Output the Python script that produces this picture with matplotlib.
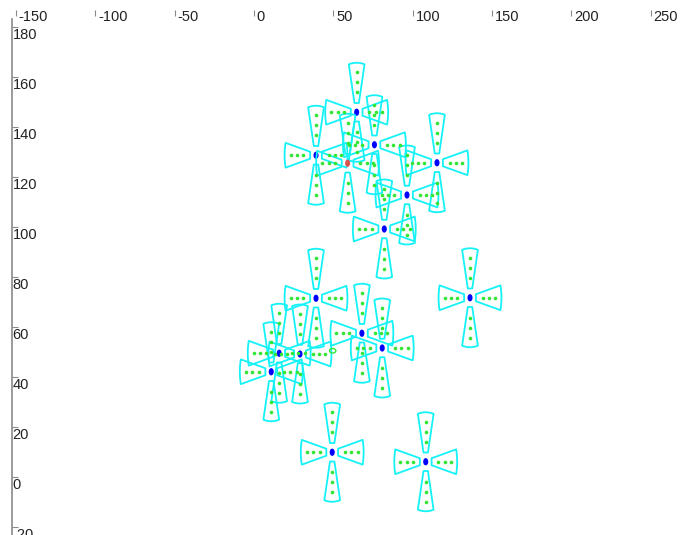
import numpy as np
import matplotlib
matplotlib.use("Agg")
import matplotlib.pyplot as plt
from matplotlib.patches import Polygon, Ellipse

# ==============================
# DATA
# ==============================
node_x = [64.7, 75.9, 39.1, 59.0, 115.3, 96.4, 82.1, 39.1, 136.1,
          68.0, 80.8, 15.9, 29.0, 10.9, 49.3, 108.2]
node_y = [145.9, 132.9, 128.7, 125.5, 125.7, 112.8, 99.2, 71.5, 71.7,
          57.5, 51.6, 49.5, 49.2, 42.1, 9.9, 6.1]
node_color = ["blue", "blue", "blue", "#d9534f", "blue", "blue", "blue", "blue", "blue",
              "blue", "blue", "blue", "blue", "blue", "blue", "blue"]
marker_x = [49.6]
marker_y = [50.5]

x_ticks = [-150, -100, -50, 0, 50, 100, 150, 200, 250]
y_ticks = [180, 160, 140, 120, 100, 80, 60, 40, 20, 0, -20]

# wedge geometry (data units)
R_IN, R_OUT, HALF_ANG, HALF_IN = 3.7, 19.8, 14.5, 1.4
DOT_R = [8, 12, 16]

plt.rcParams["font.family"] = ["Liberation Sans", "DejaVu Sans"]

fig = plt.figure(figsize=(6.91, 5.35), dpi=100)
ax = fig.add_axes([12 / 691, 0, 679 / 691, 525 / 535])
ax.set_xlim(-152.4, 275.3)
ax.set_ylim(-23.2, 186.8)

for s in ("top", "right", "bottom"):
    ax.spines[s].set_visible(False)
ax.spines["left"].set_color("#8a8a8a")
ax.spines["left"].set_linewidth(1.2)
ax.spines["left"].set_bounds(-23.2, 183)

ax.xaxis.tick_top()
ax.set_xticks(x_ticks)
ax.set_yticks(y_ticks)
ax.tick_params(axis="x", direction="in", length=4, color="#8a8a8a", labeltop=False)
ax.tick_params(axis="y", direction="in", length=4, color="#8a8a8a", labelleft=False)

for v in x_ticks:
    ax.annotate(str(v), xy=(v, 1), xycoords=("data", "axes fraction"),
                xytext=(2, 0), textcoords="offset points",
                ha="left", va="top", fontsize=10.5, color="#222222")
for v in y_ticks:
    ax.annotate(str(v), xy=(0, v), xycoords=("axes fraction", "data"),
                xytext=(0.5, -1), textcoords="offset points",
                ha="left", va="top", fontsize=10.5, color="#222222")


def wedge(cx, cy, ang):
    t = np.radians(ang)
    ux, uy = np.cos(t), np.sin(t)
    px, py = -uy, ux
    a = np.radians(np.linspace(ang + HALF_ANG, ang - HALF_ANG, 12))
    outer = np.column_stack([cx + R_OUT * np.cos(a), cy + R_OUT * np.sin(a)])
    inner = np.array([[cx + R_IN * ux - HALF_IN * px, cy + R_IN * uy - HALF_IN * py],
                      [cx + R_IN * ux + HALF_IN * px, cy + R_IN * uy + HALF_IN * py]])
    return np.vstack([inner, outer])


for cx, cy, col in zip(node_x, node_y, node_color):
    for ang in (0, 90, 180, 270):
        ax.add_patch(Polygon(wedge(cx, cy, ang), closed=True, fill=False,
                             edgecolor="#14f2f7", linewidth=1.3, joinstyle="round"))
        t = np.radians(ang)
        ax.plot([cx + r * np.cos(t) for r in DOT_R], [cy + r * np.sin(t) for r in DOT_R],
                linestyle="none", marker="o", markersize=2.6, color="#33e633",
                markeredgewidth=0)
    ax.add_patch(Ellipse((cx, cy), 3.2, 2.9, facecolor=col, edgecolor="none"))

for mx, my in zip(marker_x, marker_y):
    ax.add_patch(Ellipse((mx, my), 4.0, 1.8, fill=False, edgecolor="#33e633", linewidth=1))

fig.savefig("out.png", dpi=100)
